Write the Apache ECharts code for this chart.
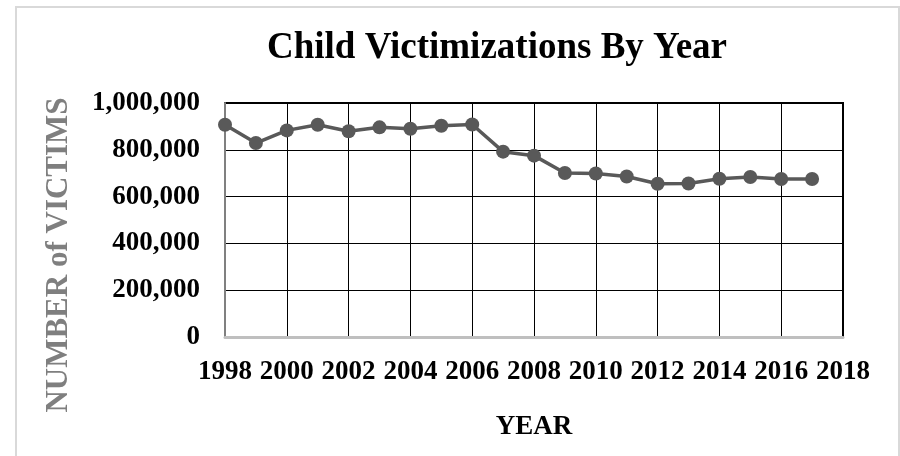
<!DOCTYPE html>
<html>
<head>
<meta charset="utf-8">
<script src="https://cdn.jsdelivr.net/npm/echarts@6/dist/echarts.min.js"></script>
<style>
  html, body { margin: 0; padding: 0; background: #ffffff; }
  #chart { width: 900px; height: 456px; }
</style>
</head>
<body>
<div id="chart"></div>
<script>
// Reported child victims per year
const years = [1998, 1999, 2000, 2001, 2002, 2003, 2004, 2005, 2006, 2007,
               2008, 2009, 2010, 2011, 2012, 2013, 2014, 2015, 2016, 2017];
const victims = [907000, 829000, 883000, 907000, 879000, 896000, 890000, 903000, 908000, 792000,
                 775000, 701000, 699000, 686000, 655000, 656000, 676000, 684000, 675000, 675000];

const chartTitle = 'Child Victimizations By Year';
const xTitle = 'YEAR';
const yTitle = 'NUMBER of VICTIMS';

const serif = '"Liberation Serif", "Times New Roman", serif';
const chart = echarts.init(document.getElementById('chart'), null, { renderer: 'canvas' });

chart.setOption({
  backgroundColor: '#ffffff',
  animation: false,
  grid: {
    left: 225, top: 103, width: 618, height: 234,
    show: true, borderColor: '#000000', borderWidth: 2,
    containLabel: false
  },
  xAxis: {
    type: 'value',
    min: 1998, max: 2018, interval: 2,
    axisLine: { show: true, onZero: false, lineStyle: { color: '#bfbfbf', width: 3 } },
    axisTick: { show: false },
    splitLine: { show: true, lineStyle: { color: '#000000', width: 1 } },
    axisLabel: {
      margin: 22,
      fontFamily: serif, fontWeight: 'bold', fontSize: 27, color: '#000000',
      formatter: v => String(v)
    }
  },
  yAxis: {
    type: 'value',
    min: 0, max: 1000000, interval: 200000,
    axisLine: { show: true, lineStyle: { color: '#808080', width: 2 } },
    axisTick: { show: false },
    splitLine: { show: true, lineStyle: { color: '#000000', width: 1 } },
    axisLabel: {
      margin: 25,
      fontFamily: serif, fontWeight: 'bold', fontSize: 27, color: '#000000',
      formatter: v => v.toLocaleString('en-US')
    }
  },
  series: [{
    type: 'line',
    data: years.map((y, i) => [y, victims[i]]),
    symbol: 'circle',
    symbolSize: 14,
    lineStyle: { color: '#595959', width: 3.5 },
    itemStyle: { color: '#595959' },
    z: 5
  }],
  graphic: [
    {
      type: 'rect', silent: true, z: -10,
      shape: { x: 16, y: 7, width: 883, height: 470 },
      style: { fill: null, stroke: '#d9d9d9', lineWidth: 2 }
    },
    {
      type: 'text', x: 497, y: 48,
      style: {
        text: chartTitle, fill: '#000000',
        font: 'bold 37px ' + serif,
        textAlign: 'center', textVerticalAlign: 'middle'
      }
    },
    {
      type: 'text', x: 534, y: 427,
      style: {
        text: xTitle, fill: '#000000',
        font: 'bold 27px ' + serif,
        textAlign: 'center', textVerticalAlign: 'middle'
      }
    },
    {
      type: 'text', x: 59, y: 255, rotation: Math.PI / 2,
      style: {
        text: yTitle, fill: '#7f7f7f',
        font: 'bold 31px ' + serif,
        textAlign: 'center', textVerticalAlign: 'middle'
      }
    }
  ]
});
</script>
</body>
</html>
